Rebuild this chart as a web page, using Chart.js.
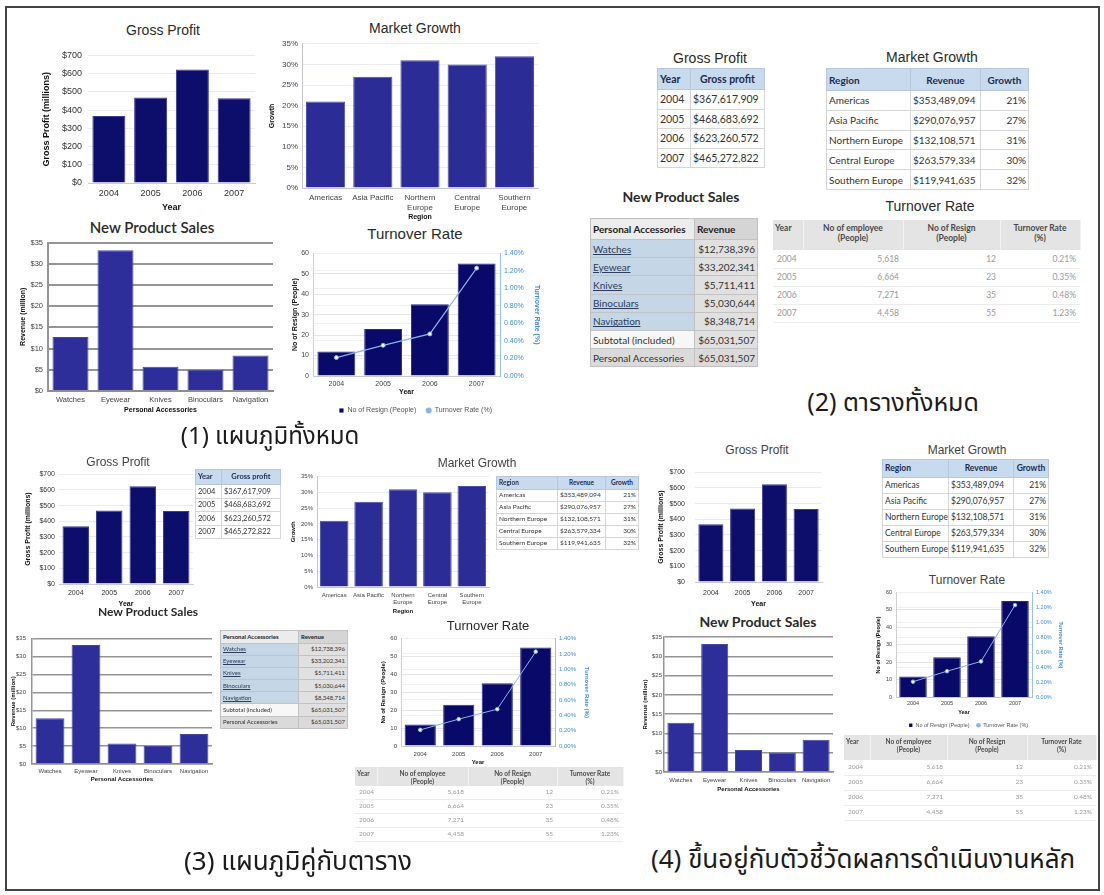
<!DOCTYPE html>
<html>
<head>
<meta charset="utf-8">
<script src="https://cdn.jsdelivr.net/npm/chart.js@4.4.1/dist/chart.umd.min.js"></script>
<style>
  body { margin: 0; width: 1104px; height: 895px; background: #fff; position: relative; overflow: hidden;
         font-family: "Liberation Sans", Arial, sans-serif; }
  #frame { position: absolute; left: 5px; top: 6px; width: 1091px; height: 881px; border: 2px solid #444; }
  canvas { position: absolute; }
  .ttl { position: absolute; white-space: nowrap; transform: translate(-50%, -50%); color: #2a2a2a; line-height: 1; }
  .cal { font-family: Lato, "Open Sans", sans-serif; }
  .cap { position: absolute; white-space: nowrap; transform: translate(-50%, -50%); color: #1b1b1b; line-height: 1;
         font-family: "Noto Sans Thai", "Noto Sans", "DejaVu Sans", sans-serif; }
  table { position: absolute; border-collapse: collapse; table-layout: fixed; font-family: Lato, "Open Sans", sans-serif; }
  td, th { padding: 0 2px; line-height: 1; overflow: hidden; white-space: nowrap; }
</style>
</head>
<body>
<div id="frame"></div>
<script>
// ---- data ----
const years = ['2004', '2005', '2006', '2007'];
const grossProfit = [367617909, 468683692, 623260572, 465272822];

const regions = ['Americas', 'Asia Pacific', 'Northern Europe', 'Central Europe', 'Southern Europe'];
const regionTicks = [['Americas'], ['Asia Pacific'], ['Northern', 'Europe'], ['Central', 'Europe'], ['Southern', 'Europe']];
const regionRevenue = [353489094, 290076957, 132108571, 263579334, 119941635];
const regionGrowth = [21, 27, 31, 30, 32];

const accessories = ['Watches', 'Eyewear', 'Knives', 'Binoculars', 'Navigation'];
const accessoryRevenue = [12738396, 33202341, 5711411, 5030644, 8348714];
const accessoryTotal = 65031507;

const employees = [5618, 6664, 7271, 4458];
const resigned = [12, 23, 35, 55];
const turnoverRate = [0.21, 0.35, 0.48, 1.23];

Chart.defaults.font.family = '"Liberation Sans", Arial, sans-serif';
Chart.defaults.color = '#333';
Chart.defaults.animation = false;
Chart.defaults.plugins.legend.display = false;
Chart.defaults.plugins.tooltip.enabled = false;

const money = v => '$' + v.toLocaleString('en-US');
const fixW = w => s => { s.width = w; };
const fixH = h => s => { s.height = h; };
const NAVY = '#09096a';
const SKY = '#8cb2ea';

// canvas sized so the plot area lands on `plot`, with `m` pixels of room around it
function canvasAt(plot, m) {
  const c = document.createElement('canvas');
  c.width = plot.r - plot.l + m.l + m.r;
  c.height = plot.b - plot.t + m.t + m.b + (m.leg || 0);
  c.style.left = (plot.l - m.l) + 'px';
  c.style.top = (plot.t - m.t) + 'px';
  document.body.appendChild(c);
  return c;
}

function text(cls, str, cx, cy, size, extra) {
  const d = document.createElement('div');
  d.className = cls;
  d.textContent = str;
  d.style.left = cx + 'px';
  d.style.top = cy + 'px';
  d.style.fontSize = size + 'px';
  if (extra) Object.assign(d.style, extra);
  document.body.appendChild(d);
}

function axisTitle(str, size, pad, color) {
  return { display: true, text: str, font: { size: size, weight: 'bold' }, color: color || '#111', padding: pad };
}

function grossProfitChart(plot, m, f) {
  new Chart(canvasAt(plot, m), {
    type: 'bar',
    data: {
      labels: years,
      datasets: [{ data: grossProfit.map(v => v / 1e6), backgroundColor: '#0d0d6c', borderColor: '#3a3a98',
                   borderWidth: 1, barPercentage: 0.79, categoryPercentage: 1 }]
    },
    options: {
      responsive: false,
      layout: { padding: { top: m.t, right: m.r, left: 0, bottom: 0 } },
      scales: {
        x: {
          afterFit: fixH(m.b),
          grid: { display: false, drawTicks: false },
          border: { color: '#c9c9e6' },
          ticks: { font: { size: f.tick }, padding: f.xpad, autoSkip: false, maxRotation: 0 },
          title: axisTitle('Year', f.ttl, f.xtp)
        },
        y: {
          min: 0, max: 700,
          afterFit: fixW(m.l),
          grid: { color: '#ebebeb', drawTicks: false },
          border: { display: false },
          ticks: { stepSize: 100, callback: v => '$' + v, font: { size: f.tick }, padding: f.ypad },
          title: axisTitle('Gross Profit (millions)', f.ttl, f.ytp)
        }
      }
    }
  });
}

function marketGrowthChart(plot, m, f) {
  new Chart(canvasAt(plot, m), {
    type: 'bar',
    data: {
      labels: regionTicks,
      datasets: [{ data: regionGrowth, backgroundColor: '#2c2c97', borderColor: '#4d4dae',
                   borderWidth: 1, barPercentage: 0.83, categoryPercentage: 1 }]
    },
    options: {
      responsive: false,
      layout: { padding: { top: m.t, right: m.r, left: 0, bottom: 0 } },
      scales: {
        x: {
          afterFit: fixH(m.b),
          grid: { display: false, drawTicks: false },
          border: { color: '#c4c4e2' },
          ticks: { font: { size: f.tick }, color: '#444', padding: f.xpad, autoSkip: false, maxRotation: 0 },
          title: axisTitle('Region', f.ttl, f.xtp)
        },
        y: {
          min: 0, max: 35,
          afterFit: fixW(m.l),
          grid: { color: '#ebebf3', drawTicks: false },
          border: { color: '#c4c4e2' },
          ticks: { stepSize: 5, callback: v => v + '%', font: { size: f.tick }, color: '#444', padding: f.ypad },
          title: axisTitle('Growth', f.ttl, f.ytp)
        }
      }
    }
  });
}

function productSalesChart(plot, m, f) {
  new Chart(canvasAt(plot, m), {
    type: 'bar',
    data: {
      labels: accessories,
      datasets: [{ data: accessoryRevenue.map(v => v / 1e6), backgroundColor: '#2e2e9b', borderColor: '#4747ab',
                   borderWidth: 1, barPercentage: 0.8, categoryPercentage: 1 }]
    },
    options: {
      responsive: false,
      layout: { padding: { top: m.t, right: m.r, left: 0, bottom: 0 } },
      scales: {
        x: {
          afterFit: fixH(m.b),
          grid: { display: false, drawTicks: false },
          border: { color: '#8e8e8e', width: f.gw },
          ticks: { font: { size: f.tick }, color: '#444', padding: f.xpad, autoSkip: false, maxRotation: 0 },
          title: axisTitle('Personal Accessories', f.ttl, f.xtp)
        },
        y: {
          min: 0, max: 35,
          afterFit: fixW(m.l),
          grid: { color: '#959595', lineWidth: f.gw, drawTicks: false },
          border: { color: '#959595', width: f.gw },
          ticks: { stepSize: 5, callback: v => '$' + v, font: { size: f.tick }, color: '#444', padding: f.ypad },
          title: axisTitle('Revenue (million)', f.ttl, f.ytp)
        }
      }
    }
  });
}

// legend entries: navy square for the bars, small sky-blue dot for the rate line
function turnoverLegendItems(chart) {
  return Chart.defaults.plugins.legend.labels.generateLabels(chart).map(item => {
    const line = chart.data.datasets[item.datasetIndex].type === 'line';
    return Object.assign(item, {
      pointStyle: line ? 'circle' : 'rect',
      fillStyle: line ? SKY : NAVY,
      strokeStyle: line ? SKY : NAVY,
      lineWidth: 0
    });
  }).sort((a, b) => a.datasetIndex - b.datasetIndex);
}

function turnoverChart(plot, m, f) {
  new Chart(canvasAt(plot, m), {
    data: {
      labels: years,
      datasets: [
        { type: 'bar', label: 'No of Resign (People)', data: resigned, yAxisID: 'y', order: 1,
          backgroundColor: NAVY, borderColor: '#2a2a88', borderWidth: 1,
          barPercentage: 0.81, categoryPercentage: 1 },
        { type: 'line', label: 'Turnover Rate (%)', data: turnoverRate, yAxisID: 'y1', order: 0,
          borderColor: SKY, borderWidth: f.lw, pointRadius: f.pr, pointBorderWidth: 1,
          pointBackgroundColor: '#ffffff', pointBorderColor: SKY }
      ]
    },
    options: {
      responsive: false,
      layout: { padding: { top: m.t, right: 0, left: 0, bottom: 0 } },
      plugins: {
        legend: {
          display: !!m.leg, position: 'bottom',
          labels: { font: { size: f.leg }, color: '#555', usePointStyle: true, boxWidth: f.leg * 0.7,
                    boxHeight: f.leg * 0.6, padding: f.legPad, generateLabels: turnoverLegendItems }
        }
      },
      scales: {
        x: {
          afterFit: fixH(m.b),
          grid: { display: false, drawTicks: false },
          border: { color: '#c9c9d6' },
          ticks: { font: { size: f.tick }, color: '#444', padding: f.xpad, autoSkip: false, maxRotation: 0 },
          title: axisTitle('Year', f.ttl, f.xtp)
        },
        y: {
          position: 'left', min: 0, max: 60,
          afterFit: fixW(m.l),
          grid: { color: '#e6e6e6', drawTicks: false },
          border: { color: '#d0d0d0' },
          ticks: { stepSize: 10, font: { size: f.tick }, color: '#444', padding: f.ypad },
          title: axisTitle('No of Resign (People)', f.ttl, f.ytp)
        },
        y1: {
          position: 'right', min: 0, max: 1.4,
          afterFit: fixW(m.r),
          grid: { color: '#f0f0f0', drawTicks: false },
          border: { color: '#9cc0ec' },
          ticks: { stepSize: 0.2, callback: v => v.toFixed(2) + '%', font: { size: f.tick }, color: '#3d8de0', padding: f.ypad },
          title: axisTitle('Turnover Rate (%)', f.ttl, f.rtp, '#3d8de0')
        }
      }
    }
  });
}

// ---- tables ----
function buildTable(x, y, cols, headH, rowH, fs, head, rows, styler) {
  const t = document.createElement('table');
  t.style.left = x + 'px';
  t.style.top = y + 'px';
  t.style.width = cols.reduce((a, b) => a + b, 0) + 'px';
  t.style.fontSize = fs + 'px';
  let html = '<colgroup>' + cols.map(w => '<col style="width:' + w + 'px">').join('') + '</colgroup>';
  html += '<tr style="height:' + headH + 'px">' +
          head.map((h, j) => '<th style="' + styler(-1, j, rows.length) + '">' + h + '</th>').join('') + '</tr>';
  rows.forEach((r, i) => {
    html += '<tr style="height:' + rowH + 'px">' +
            r.map((c, j) => '<td style="' + styler(i, j, rows.length) + '">' + c + '</td>').join('') + '</tr>';
  });
  t.innerHTML = html;
  document.body.appendChild(t);
}

// blue-header tables (gross profit, market growth)
const blueStyle = rightCols => (i, j) => {
  if (i < 0) return 'background:#c7daee;color:#1d2c4e;font-weight:bold;border:1px solid #b8c8dc;text-align:' +
                    (j === 0 ? 'left' : 'center');
  return 'border:1px solid #d6d6d6;color:#333;text-align:' + (rightCols.includes(j) ? 'right' : 'left');
};

function grossProfitTable(x, y, cols, headH, rowH, fs) {
  buildTable(x, y, cols, headH, rowH, fs, ['Year', 'Gross profit'],
             years.map((yr, i) => [yr, money(grossProfit[i])]), blueStyle([]));
}

function marketGrowthTable(x, y, cols, headH, rowH, fs) {
  buildTable(x, y, cols, headH, rowH, fs, ['Region', 'Revenue', 'Growth'],
             regions.map((r, i) => [r, money(regionRevenue[i]), regionGrowth[i] + '%']), blueStyle([2]));
}

function productSalesTable(x, y, cols, headH, rowH, fs) {
  const rows = accessories.map((a, i) => ['<u>' + a + '</u>', money(accessoryRevenue[i])]);
  rows.push(['Subtotal (included)', money(accessoryTotal)]);
  rows.push(['Personal Accessories', money(accessoryTotal)]);
  buildTable(x, y, cols, headH, rowH, fs, ['Personal Accessories', 'Revenue'], rows, (i, j, n) => {
    const b = 'border:1px solid #c2c2c2;';
    if (i < 0) return b + 'font-weight:bold;color:#222;text-align:left;background:' + (j === 0 ? '#ececec' : '#d5d5d5');
    const align = j === 1 ? 'text-align:right;' : 'text-align:left;';
    if (i === n - 1) return b + align + 'color:#333;background:#dadada';
    if (i === n - 2) return b + align + 'color:#333;background:' + (j === 0 ? '#f7f7f7' : '#e0e0e0');
    return b + align + (j === 0 ? 'color:#2c3c5c;background:#c5d6e6' : 'color:#333;background:#e0e0e0');
  });
}

function turnoverTable(x, y, cols, headH, rowH, fs) {
  buildTable(x, y, cols, headH, rowH, fs,
             ['Year', 'No of employee<br>(People)', 'No of Resign<br>(People)', 'Turnover Rate<br>(%)'],
             years.map((yr, i) => [yr, employees[i].toLocaleString('en-US'), resigned[i], turnoverRate[i].toFixed(2) + '%']),
             (i, j) => {
               if (i < 0) return 'background:#e4e4e4;color:#4a4a4a;font-weight:bold;vertical-align:top;padding-top:3px;' +
                                 'border-right:1px solid #f2f2f2;line-height:1.2;text-align:' + (j === 0 ? 'left' : 'center');
               return 'color:#9a9a9a;border-bottom:1px solid #ececec;padding:0 4px;text-align:' + (j === 0 ? 'left' : 'right');
             });
}

// ---- (1) charts only ----
text('ttl', 'Gross Profit', 163, 30, 14);
grossProfitChart({ l: 88, t: 52, r: 255, b: 183 }, { l: 48, r: 6, t: 8, b: 32 },
                 { tick: 9, ttl: 9, xpad: 5, ypad: 6, xtp: 1.6, ytp: 1.6 });
text('ttl', 'Market Growth', 415, 28, 14);
marketGrowthChart({ l: 302, t: 43, r: 538, b: 188 }, { l: 36, r: 8, t: 8, b: 34 },
                  { tick: 8, ttl: 7, xpad: 5, ypad: 4, xtp: 0.8, ytp: 1.8 });
text('ttl cal', 'New Product Sales', 152, 227, 15, { fontWeight: '600' });
productSalesChart({ l: 48, t: 241, r: 273, b: 391 }, { l: 30, r: 5, t: 8, b: 24 },
                  { tick: 7.5, ttl: 7, xpad: 4.5, ypad: 5, xtp: 0.8, ytp: 0.8, gw: 2 });
text('ttl', 'Turnover Rate', 415, 233, 15);
turnoverChart({ l: 313, t: 253, r: 500, b: 377 }, { l: 24, r: 42, t: 8, b: 21, leg: 26 },
              { tick: 7, ttl: 7, xpad: 4, ypad: 4, xtp: 0.8, ytp: 1.8, rtp: 0.8, lw: 1.2, pr: 2, leg: 7, legPad: 10 });
text('cap', '(1) แผนภูมิทั้งหมด', 270, 437, 24);

// ---- (2) tables only ----
text('ttl', 'Gross Profit', 710, 58, 14);
grossProfitTable(657, 68, [33, 74], 21, 19.5, 10.5);
text('ttl', 'Market Growth', 932, 57, 14);
marketGrowthTable(826, 68, [84, 70, 48], 22, 19.8, 10);
text('ttl cal', 'New Product Sales', 681, 197, 14, { fontWeight: 'bold' });
productSalesTable(590, 218, [104, 63], 21, 18.2, 10);
text('ttl', 'Turnover Rate', 930, 206, 14);
turnoverTable(773, 220, [30, 100, 97, 80], 30, 18.2, 8.5);
text('cap', '(2) ตารางทั้งหมด', 893, 403, 25);

// ---- (3) chart beside table ----
text('ttl', 'Gross Profit', 118, 462, 12, { color: '#444' });
grossProfitChart({ l: 59, t: 472, r: 193, b: 584 }, { l: 37, r: 5, t: 6, b: 24 },
                 { tick: 7, ttl: 7, xpad: 4.8, ypad: 4, xtp: 0, ytp: 1.8 });
grossProfitTable(195, 469, [26, 59], 15, 13.5, 7.5);
text('ttl', 'Market Growth', 477, 463, 12, { color: '#444' });
marketGrowthChart({ l: 317, t: 475, r: 489, b: 587 }, { l: 28, r: 6, t: 6, b: 28 },
                  { tick: 6, ttl: 6, xpad: 4.4, ypad: 4, xtp: 0.4, ytp: 0.4 });
marketGrowthTable(496, 476, [61, 48, 33], 13, 12, 6.5);
text('ttl cal', 'New Product Sales', 148, 612, 12, { fontWeight: 'bold' });
productSalesChart({ l: 32, t: 635, r: 212, b: 764 }, { l: 24, r: 4, t: 6, b: 19 },
                  { tick: 6, ttl: 6, xpad: 3.4, ypad: 6, xtp: 0.4, ytp: 1.4, gw: 1.5 });
productSalesTable(220, 630, [78, 49], 12.5, 12.2, 6);
text('ttl', 'Turnover Rate', 488, 625, 13);
turnoverChart({ l: 401, t: 637, r: 555, b: 746 }, { l: 24, r: 36, t: 6, b: 20 },
              { tick: 6, ttl: 6, xpad: 4.4, ypad: 4, xtp: 0.4, ytp: 2.4, rtp: 0.4, lw: 1, pr: 1.8 });
turnoverTable(355, 767, [22, 91, 89, 66], 18, 14, 6.5);
text('cap', '(3) แผนภูมิคู่กับตาราง', 298, 862, 26);

// ---- (4) key performance indicators ----
text('ttl', 'Gross Profit', 757, 450, 12, { color: '#444' });
grossProfitChart({ l: 695, t: 464, r: 822, b: 582 }, { l: 40, r: 5, t: 6, b: 26 },
                 { tick: 7, ttl: 7, xpad: 6.8, ypad: 10, xtp: 0, ytp: 1.8 });
text('ttl', 'Market Growth', 967, 450, 12, { color: '#444' });
marketGrowthTable(882, 459, [66, 65, 35], 18, 16, 8.5);
text('ttl', 'Turnover Rate', 967, 580, 12, { color: '#444' });
turnoverChart({ l: 896, t: 591, r: 1032, b: 702 }, { l: 23, r: 32, t: 6, b: 18, leg: 18 },
              { tick: 5.5, ttl: 5.5, xpad: 2.7, ypad: 4, xtp: 0, ytp: 1.7, rtp: 0, lw: 1, pr: 1.8, leg: 5.5, legPad: 7 });
turnoverTable(844, 735, [26, 77, 80, 69], 25, 15, 6.5);
text('ttl cal', 'New Product Sales', 758, 622, 14, { fontWeight: 'bold' });
productSalesChart({ l: 664, t: 637, r: 833, b: 772 }, { l: 23, r: 4, t: 6, b: 21 },
                  { tick: 6, ttl: 6, xpad: 4.4, ypad: 2, xtp: 0.4, ytp: 0.4, gw: 1.5 });
text('cap', '(4) ขึ้นอยู่กับตัวชี้วัดผลการดำเนินงานหลัก', 863, 860, 26);
</script>
</body>
</html>
